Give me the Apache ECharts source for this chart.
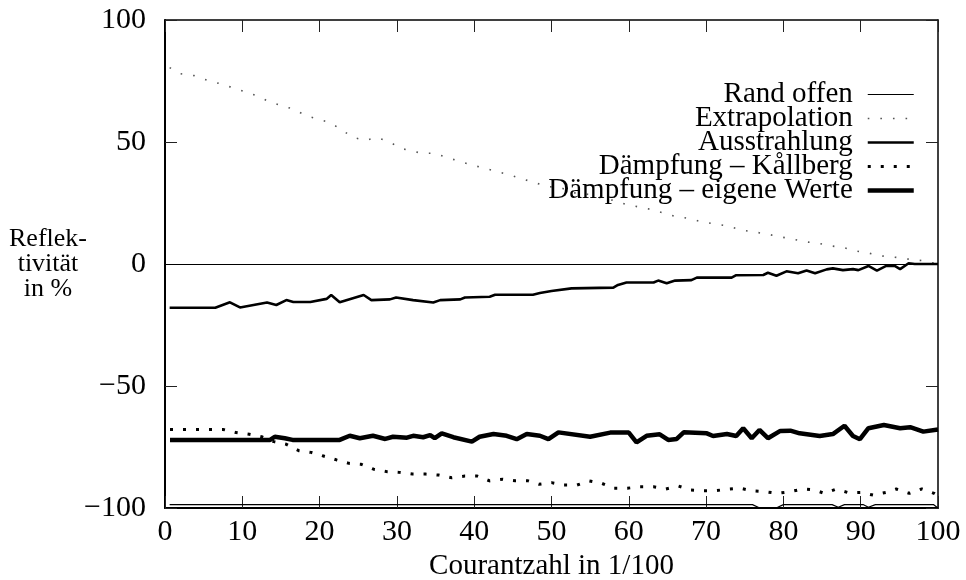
<!DOCTYPE html>
<html>
<head>
<meta charset="utf-8">
<script src="https://cdn.jsdelivr.net/npm/echarts@6/dist/echarts.min.js"></script>
<style>html,body{margin:0;padding:0;background:#fff}#c{width:966px;height:580px}</style>
</head>
<body>
<div id="c"></div>
<script>
const seriesNames = ['Rand offen', 'Extrapolation', 'Ausstrahlung', 'Dämpfung – Kållberg', 'Dämpfung – eigene Werte'];
const xTicks = [0, 10, 20, 30, 40, 50, 60, 70, 80, 90, 100];
const yTicks = [-100, -50, 0, 50, 100];
const yAxisTitle = 'Reflek-\ntivität\nin %';
const xAxisTitle = 'Courantzahl in 1/100';

const randOffen = [[0.6,-98.6],[76,-98.6],[76.8,-99.8],[79.2,-99.8],[80,-98.6],[86.3,-98.6],[87.1,-99.7],[87.9,-98.6],[90.3,-98.6],[91,-99.7],[91.9,-98.6],[99.4,-98.6],[100,-100]];

const extrapolation = [[0.6,80.5],[2.0,78.0],[3.8,77.2],[5.4,75.4],[7.0,74.0],[8.7,72.3],[10.3,70.6],[11.9,68.9],[13.5,66.5],[15.1,64.9],[16.7,63.4],[18.2,60.8],[19.9,59.3],[21.4,57.9],[22.9,54.9],[24.3,51.9],[25.9,50.7],[27.4,51.8],[29.0,50.1],[30.5,47.4],[33.2,45.4],[34.8,45.4],[36.4,43.7],[39.8,40.5],[44.6,36.5],[49.5,31.7],[51.1,31.4],[52.8,29.2],[54.5,28.7],[56.2,27.3],[57.8,26.2],[59.5,24.6],[61.1,23.5],[62.8,22.4],[64.6,20.8],[66.1,19.4],[67.8,18.7],[69.4,17.3],[71.1,16.4],[72.8,15.6],[74.5,13.9],[76.1,13.2],[77.8,12.3],[79.5,11.2],[81.2,10.2],[82.8,9.1],[84.5,8.5],[86.2,7.4],[87.8,6.7],[89.5,5.3],[91.1,4.4],[92.8,3.3],[94.6,2.7],[96.2,2.0],[97.9,1.4],[100,0]];

const ausstrahlung = [[0.6,-17.9],[6.5,-17.9],[8.4,-15.7],[9.7,-17.8],[13.2,-15.8],[14.4,-16.8],[15.7,-14.8],[16.6,-15.6],[18.8,-15.6],[20.9,-14.3],[21.5,-12.7],[22.6,-15.7],[25.7,-12.7],[26.7,-14.8],[29.1,-14.5],[29.9,-13.7],[32.1,-14.8],[34.7,-15.8],[35.6,-14.8],[38.2,-14.5],[38.8,-13.7],[42.0,-13.4],[42.7,-12.6],[47.6,-12.6],[48.5,-11.9],[50.0,-11.1],[52.6,-10.0],[58.0,-9.7],[58.6,-8.6],[59.7,-7.6],[63.2,-7.6],[63.8,-6.8],[64.9,-7.9],[66.0,-6.8],[68.1,-6.6],[68.8,-5.6],[73.3,-5.6],[73.9,-4.6],[77.4,-4.5],[78.0,-3.6],[79.1,-4.8],[80.4,-3.0],[81.9,-3.8],[83.0,-2.7],[84.1,-3.8],[85.6,-2.2],[86.4,-1.8],[87.7,-2.5],[89.0,-2.1],[89.7,-2.5],[91.0,-0.8],[92.1,-2.7],[93.3,-0.8],[94.4,-0.8],[95.1,-2.1],[96.2,0.3],[97.0,0],[100,0]];

const kallberg = [[0.65,-67.8],[2.4,-67.8],[4.1,-67.8],[5.8,-67.8],[7.5,-67.8],[9.2,-69.1],[10.9,-69.8],[12.5,-70.8],[14.1,-72.8],[15.7,-73.9],[17.3,-76.5],[18.9,-77.2],[20.5,-78.7],[22.2,-80.3],[23.8,-81.7],[25.4,-82.1],[27.0,-84.1],[28.7,-85.1],[30.3,-85.4],[32.0,-86.1],[33.7,-86.1],[35.4,-86.5],[37.1,-87.6],[38.8,-86.9],[40.4,-86.9],[42.0,-88.9],[43.7,-88.2],[45.3,-88.8],[46.9,-88.8],[48.4,-90.3],[50.0,-89.6],[51.6,-90.6],[53.3,-90.6],[54.9,-88.9],[56.5,-89.9],[58.1,-91.9],[59.8,-91.9],[61.4,-91.3],[63.2,-91.3],[64.8,-92.2],[66.4,-91.0],[68.0,-92.6],[69.6,-92.9],[71.2,-92.9],[72.8,-92.3],[74.4,-91.9],[76.0,-93.0],[77.6,-93.3],[79.2,-94.0],[80.9,-93.3],[82.5,-92.2],[84.0,-92.6],[85.3,-94.0],[86.8,-92.3],[88.4,-93.7],[90.0,-93.6],[91.6,-94.7],[93.3,-93.6],[94.6,-92.2],[96.3,-94.0],[97.9,-92.2],[99.5,-94.0],[100,-95.0]];

const eigeneWerte = [[0.65,-72.1],[13.6,-72.1],[14.2,-70.8],[15.5,-71.4],[16.5,-72.1],[22.6,-72.1],[23.9,-70.4],[25.2,-71.4],[26.9,-70.4],[28.5,-71.7],[29.5,-70.8],[31.3,-71.2],[32.1,-70.4],[33.4,-71.0],[34.3,-70.1],[34.9,-71.4],[35.8,-69.4],[37.3,-71.0],[39.7,-72.8],[40.7,-70.8],[42.5,-69.7],[44.2,-70.4],[45.5,-71.8],[46.8,-69.7],[48.5,-70.4],[49.6,-71.8],[50.9,-69.0],[55.0,-70.8],[57.6,-69.1],[60.0,-69.1],[61.0,-73.1],[62.3,-70.4],[64.0,-69.8],[65.1,-72.1],[66.2,-71.7],[67.1,-69.0],[70.1,-69.4],[70.9,-70.5],[72.7,-69.7],[73.9,-70.5],[74.8,-67.3],[75.9,-71.4],[76.9,-68.0],[78.0,-71.4],[79.6,-68.4],[80.9,-68.3],[82.1,-69.4],[84.7,-70.5],[86.4,-69.7],[87.9,-66.3],[89.0,-70.5],[89.9,-71.8],[91.0,-67.3],[93.0,-66.0],[95.1,-67.3],[96.4,-66.9],[98.1,-68.7],[100,-67.8]];

const FONT = 'Liberation Serif';
const minus = v => String(v).replace('-', '\u2212');
const chart = echarts.init(document.getElementById('c'), null, {renderer: 'canvas'});

const styles = [
  {color: '#000', width: 1.2, type: 'solid'},
  {color: '#555', width: 1.6, type: [1.6, 11]},
  {color: '#000', width: 2.6, type: 'solid'},
  {color: '#000', width: 3, type: [3, 10]},
  {color: '#000', width: 4.5, type: 'solid'}
];

const axisCommon = {
  type: 'value',
  splitLine: {show: false},
  axisTick: {show: true, inside: true, length: 12, lineStyle: {color: '#222', width: 1}},
  axisLine: {show: true, onZero: false, lineStyle: {color: '#000', width: 2}}
};

chart.setOption({
  animation: false,
  backgroundColor: '#fff',
  grid: {left: 165, right: 28, top: 20, bottom: 72, containLabel: false, outerBoundsMode: 'none'},
  graphic: [{
    type: 'text', x: 48, y: 227, silent: true,
    style: {text: yAxisTitle, fill: '#000', font: '26px "Liberation Serif"', align: 'center', verticalAlign: 'top', lineHeight: 25}
  }],
  legend: {
    data: seriesNames.map((n, i) => ({name: n, lineStyle: Object.assign({}, styles[i])})),
    orient: 'vertical',
    right: 45,
    top: 75,
    align: 'right',
    itemWidth: 46,
    itemHeight: 10,
    itemGap: -5,
    selectedMode: false,
    itemStyle: {opacity: 0},
    textStyle: {fontFamily: FONT, fontSize: 29, color: '#000', lineHeight: 24, padding: [0, 10, 0, 0]}
  },
  xAxis: [
    Object.assign({}, axisCommon, {
      min: 0, max: 100, interval: 10, position: 'bottom',
      name: xAxisTitle, nameLocation: 'middle', nameGap: 38,
      nameTextStyle: {fontFamily: FONT, fontSize: 29, color: '#000'},
      axisLabel: {fontFamily: FONT, fontSize: 30, color: '#000', margin: 9,
        formatter: v => xTicks.includes(v) ? minus(v) : ''}
    }),
    Object.assign({}, axisCommon, {
      min: 0, max: 100, interval: 10, position: 'top',
      axisLabel: {show: false},
      axisLine: {show: true, onZero: false, lineStyle: {color: '#000', width: 1.5}}
    })
  ],
  yAxis: [
    Object.assign({}, axisCommon, {
      min: -100, max: 100, interval: 50, position: 'left',
      axisLabel: {fontFamily: FONT, fontSize: 30, color: '#000', margin: 19,
        formatter: v => yTicks.includes(v) ? minus(v) : ''}
    }),
    Object.assign({}, axisCommon, {
      min: -100, max: 100, interval: 50, position: 'right',
      axisLabel: {show: false},
      axisLine: {show: true, onZero: false, lineStyle: {color: '#000', width: 1.5}}
    })
  ],
  series: [
    {
      name: seriesNames[0], type: 'line', data: randOffen, showSymbol: false, symbol: 'none',
      lineStyle: styles[0], itemStyle: {color: '#000'},
      markLine: {silent: true, symbol: 'none', label: {show: false},
        lineStyle: {color: '#000', width: 1.2, type: 'solid'}, data: [{yAxis: 0}]}
    },
    {
      name: seriesNames[1], type: 'line', data: extrapolation, showSymbol: false, symbol: 'none',
      lineStyle: styles[1], itemStyle: {color: '#555'}
    },
    {
      name: seriesNames[2], type: 'line', data: ausstrahlung, showSymbol: false, symbol: 'none',
      lineStyle: styles[2], itemStyle: {color: '#000'}
    },
    {
      name: seriesNames[3], type: 'line', data: kallberg, showSymbol: false, symbol: 'none',
      lineStyle: styles[3], itemStyle: {color: '#000'}
    },
    {
      name: seriesNames[4], type: 'line', data: eigeneWerte, showSymbol: false, symbol: 'none',
      lineStyle: styles[4], itemStyle: {color: '#000'}
    }
  ]
});
</script>
</body>
</html>
